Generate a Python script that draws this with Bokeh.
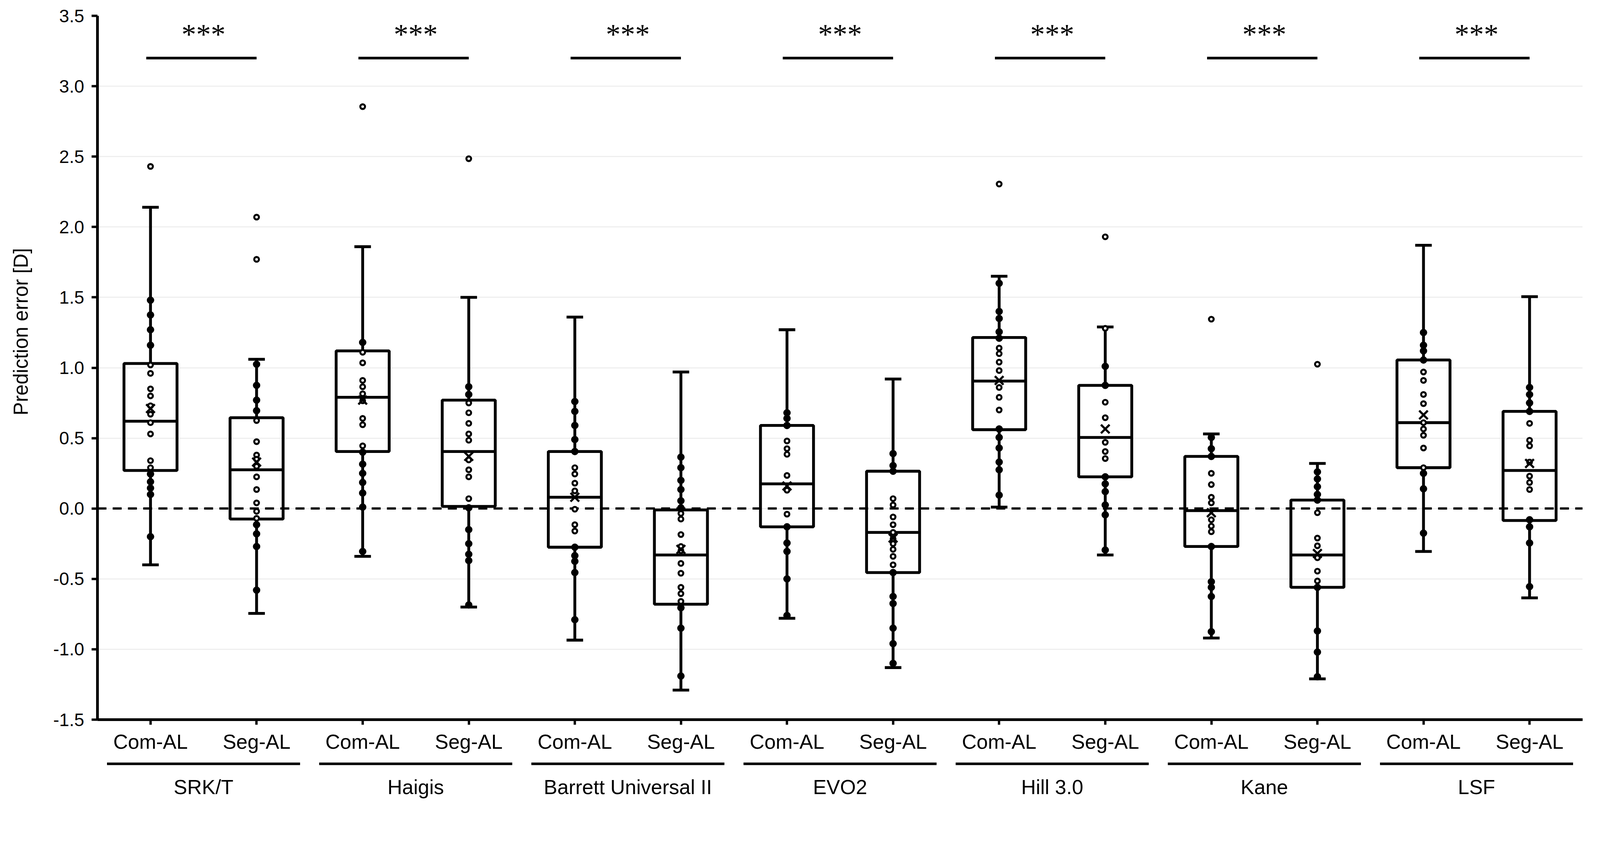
from bokeh.plotting import figure
from bokeh.models import Range1d, FixedTicker, NumeralTickFormatter, Span
from bokeh.layouts import column
from bokeh.embed import file_html
from bokeh.resources import INLINE
from bokeh.core.properties import value

# ---------------- data ----------------
methods = ["SRK/T", "Haigis", "Barrett Universal II", "EVO2", "Hill 3.0", "Kane", "LSF"]
arms = ["Com-AL", "Seg-AL"]
y_label = "Prediction error [D]"
sig_text = "***"

# per box, order: method x arm
whisker_high = [2.14, 1.06, 1.86, 1.50, 1.36, 0.97, 1.27, 0.92, 1.65, 1.29, 0.53, 0.32, 1.87, 1.505]
q3 = [1.03, 0.645, 1.12, 0.77, 0.405, -0.01, 0.59, 0.265, 1.215, 0.875, 0.37, 0.06, 1.055, 0.69]
median = [0.62, 0.275, 0.79, 0.405, 0.08, -0.33, 0.175, -0.17, 0.905, 0.505, -0.015, -0.33, 0.61, 0.27]
q1 = [0.27, -0.075, 0.405, 0.015, -0.275, -0.68, -0.13, -0.455, 0.56, 0.225, -0.27, -0.56, 0.29, -0.085]
whisker_low = [-0.40, -0.745, -0.34, -0.70, -0.935, -1.29, -0.78, -1.13, 0.01, -0.33, -0.92, -1.21, -0.305, -0.635]
mean = [0.71, 0.33, 0.77, 0.37, 0.08, -0.29, 0.16, -0.21, 0.91, 0.565, -0.03, -0.32, 0.665, 0.32]

filled_points = [
    [1.48, 1.375, 1.27, 1.16, 0.245, 0.19, 0.145, 0.10, -0.20],
    [1.025, 0.875, 0.77, 0.695, -0.115, -0.18, -0.27, -0.58],
    [1.18, 0.40, 0.315, 0.25, 0.185, 0.11, 0.01, -0.305],
    [0.865, 0.81, 0.005, -0.15, -0.25, -0.325, -0.37, -0.685],
    [0.76, 0.69, 0.59, 0.49, 0.405, -0.275, -0.335, -0.375, -0.455, -0.79],
    [0.365, 0.29, 0.20, 0.135, 0.055, 0.005, -0.705, -0.85, -1.19],
    [0.68, 0.64, 0.59, -0.13, -0.245, -0.305, -0.50, -0.76],
    [0.39, 0.305, 0.265, -0.455, -0.625, -0.675, -0.85, -0.96, -1.10],
    [1.60, 1.40, 1.35, 1.255, 1.21, 0.565, 0.505, 0.43, 0.33, 0.275, 0.095],
    [1.01, 0.875, 0.225, 0.175, 0.12, 0.025, -0.045, -0.295],
    [0.505, 0.425, 0.37, -0.27, -0.52, -0.56, -0.625, -0.875],
    [0.26, 0.21, 0.155, 0.10, 0.06, -0.56, -0.87, -1.02, -1.195],
    [1.25, 1.16, 1.12, 1.055, 0.25, 0.14, -0.175],
    [0.86, 0.81, 0.75, 0.69, -0.08, -0.13, -0.245, -0.555],
]
open_points = [
    [2.43, 1.02, 0.96, 0.85, 0.80, 0.73, 0.67, 0.61, 0.53, 0.34, 0.29],
    [2.07, 1.77, 0.625, 0.475, 0.38, 0.35, 0.30, 0.225, 0.135, 0.04, -0.02, -0.07],
    [2.855, 1.11, 1.035, 0.91, 0.865, 0.815, 0.765, 0.64, 0.595, 0.445],
    [2.485, 0.75, 0.68, 0.605, 0.53, 0.485, 0.345, 0.275, 0.225, 0.07],
    [0.29, 0.245, 0.18, 0.125, -0.005, -0.115, -0.16],
    [-0.035, -0.075, -0.185, -0.27, -0.30, -0.39, -0.46, -0.56, -0.605, -0.66],
    [0.48, 0.425, 0.385, 0.235, 0.13, -0.04],
    [0.07, 0.025, -0.06, -0.115, -0.17, -0.215, -0.25, -0.29, -0.34, -0.40],
    [2.305, 1.14, 1.10, 1.04, 0.98, 0.86, 0.79, 0.70],
    [1.93, 1.28, 0.755, 0.645, 0.47, 0.405, 0.355],
    [1.345, 0.25, 0.17, 0.08, 0.04, -0.08, -0.125, -0.165],
    [1.025, -0.03, -0.21, -0.265, -0.35, -0.445, -0.515],
    [0.97, 0.91, 0.81, 0.745, 0.61, 0.565, 0.52, 0.43, 0.29],
    [0.605, 0.485, 0.445, 0.33, 0.23, 0.185, 0.135],
]
y_ticks = [-1.5, -1.0, -0.5, 0.0, 0.5, 1.0, 1.5, 2.0, 2.5, 3.0, 3.5]
y_min, y_max = -1.5, 3.5
sig_level = 3.2      # bracket height (value units)
star_level = 3.37    # anchor of the significance stars

# ---------------- layout / style ----------------
W = 4088
LEFT, RIGHT, TOP, FRAME_H, BOTTOM = 249, 37, 40, 1801, 92
H1 = TOP + FRAME_H + BOTTOM
H2 = 117
INK = "#000000"
SANS = "Liberation Sans"
BOX_HALF = 0.25
CAP_HALF = 0.078
LW_AXIS = 7
LW_BOX = 7.3
LW_WHISK = 7.3
LABEL_SHIFT = "\u00a0" * 13   # moves the y-axis title up along the axis, as in the original

n = len(methods) * len(arms)
xc = [i + 0.5 for i in range(n)]
xr = Range1d(0, n)

p = figure(width=W, height=H1, x_range=xr, y_range=Range1d(y_min, y_max),
           output_backend="svg", toolbar_location=None,
           min_border_left=LEFT, min_border_right=RIGHT,
           min_border_top=TOP, min_border_bottom=BOTTOM)
p.outline_line_color = None
p.background_fill_color = "white"
p.border_fill_color = "white"
p.xgrid.visible = False
p.ygrid.ticker = FixedTicker(ticks=y_ticks)
p.ygrid.grid_line_color = "#efefef"
p.ygrid.grid_line_width = 3

# axes
p.yaxis.ticker = FixedTicker(ticks=y_ticks)
p.yaxis.formatter = NumeralTickFormatter(format="0.0")
p.yaxis.axis_label = LABEL_SHIFT + y_label
p.yaxis.axis_label_text_font = SANS
p.yaxis.axis_label_text_font_size = "51px"
p.yaxis.axis_label_text_font_style = "normal"
p.yaxis.axis_label_text_color = INK
p.yaxis.axis_label_standoff = 51
p.yaxis.major_label_text_font = SANS
p.yaxis.major_label_text_font_size = "46px"
p.yaxis.major_label_text_color = INK
p.yaxis.major_label_standoff = 19
p.yaxis.major_tick_out = 15
p.yaxis.major_tick_in = 0
p.yaxis.minor_tick_line_color = None
p.yaxis.axis_line_width = LW_AXIS
p.yaxis.major_tick_line_width = 6
p.yaxis.axis_line_color = INK
p.yaxis.major_tick_line_color = INK

p.xaxis.ticker = FixedTicker(ticks=xc)
p.xaxis.major_label_overrides = {x: arms[i % len(arms)] for i, x in enumerate(xc)}
p.xaxis.major_label_text_font = SANS
p.xaxis.major_label_text_font_size = "52px"
p.xaxis.major_label_text_color = INK
p.xaxis.major_label_standoff = 14
p.xaxis.major_tick_out = 13
p.xaxis.major_tick_in = 0
p.xaxis.minor_tick_line_color = None
p.xaxis.axis_line_width = LW_AXIS
p.xaxis.major_tick_line_width = 6
p.xaxis.axis_line_color = INK
p.xaxis.major_tick_line_color = INK

# zero reference line
zero = Span(location=0, dimension="width", line_color=INK, line_width=5.7,
            line_dash="23 16", level="underlay")
p.add_layout(zero)

# whiskers
p.segment(x0=xc, y0=q3, x1=xc, y1=whisker_high, line_color=INK, line_width=LW_WHISK)
p.segment(x0=xc, y0=q1, x1=xc, y1=whisker_low, line_color=INK, line_width=LW_WHISK)
p.segment(x0=[x - CAP_HALF for x in xc], y0=whisker_high,
          x1=[x + CAP_HALF for x in xc], y1=whisker_high, line_color=INK, line_width=LW_WHISK)
p.segment(x0=[x - CAP_HALF for x in xc], y0=whisker_low,
          x1=[x + CAP_HALF for x in xc], y1=whisker_low, line_color=INK, line_width=LW_WHISK)
# boxes
p.quad(left=[x - BOX_HALF for x in xc], right=[x + BOX_HALF for x in xc],
       bottom=q1, top=q3, fill_color=None, line_color=INK, line_width=LW_BOX)
p.segment(x0=[x - BOX_HALF for x in xc], y0=median,
          x1=[x + BOX_HALF for x in xc], y1=median, line_color=INK, line_width=LW_BOX)

# points
fx, fy, ox, oy = [], [], [], []
for i, x in enumerate(xc):
    for v in filled_points[i]:
        fx.append(x); fy.append(v)
    for v in open_points[i]:
        ox.append(x); oy.append(v)
p.scatter(fx, fy, marker="circle", size=18, fill_color=INK, line_color=INK, line_width=1)
p.scatter(ox, oy, marker="circle", size=12, fill_color="white", line_color=INK, line_width=5.2)
p.scatter(xc, mean, marker="x", size=31, line_color=INK, line_width=5.5)

# significance brackets
gx0 = [xc[2 * g] - 0.04 for g in range(len(methods))]
gx1 = [xc[2 * g + 1] for g in range(len(methods))]
gmid = [(xc[2 * g] + xc[2 * g + 1]) / 2 for g in range(len(methods))]
p.segment(x0=gx0, y0=[sig_level] * len(methods), x1=gx1, y1=[sig_level] * len(methods),
          line_color=INK, line_width=6.7)
p.text(x=gmid, y=[star_level] * len(methods), text=[sig_text] * len(methods),
       text_font=value("Liberation Serif"), text_font_size="75px", text_color=INK,
       text_align="center", text_baseline="middle")

# ---------------- group labels strip ----------------
q = figure(width=W, height=H2, x_range=xr, y_range=Range1d(0, H2),
           output_backend="svg", toolbar_location=None,
           x_axis_type=None, y_axis_type=None,
           min_border_left=LEFT, min_border_right=RIGHT,
           min_border_top=0, min_border_bottom=0)
q.outline_line_color = None
q.grid.visible = False
UNDER_Y, LABEL_Y = 96, 37
q.segment(x0=[2 * g + 0.09 for g in range(len(methods))], y0=[UNDER_Y] * len(methods),
          x1=[2 * g + 1.91 for g in range(len(methods))], y1=[UNDER_Y] * len(methods),
          line_color=INK, line_width=6.5)
q.text(x=gmid, y=[LABEL_Y] * len(methods), text=methods,
       text_font=value(SANS), text_font_size="52px", text_color=INK,
       text_align="center", text_baseline="middle")

layout = column(p, q, spacing=0)
open("out.html", "w").write(file_html(layout, INLINE))
